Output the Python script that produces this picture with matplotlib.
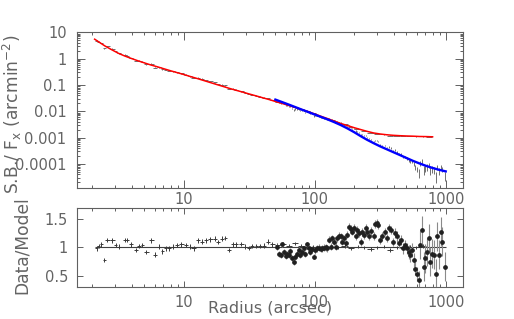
import numpy as np
import matplotlib
matplotlib.use("Agg")
import matplotlib.pyplot as plt
from matplotlib.ticker import FixedLocator, FixedFormatter, LogLocator, NullFormatter, NullLocator

# ---------------- data ----------------
# red model (inner fit)
r_red = [2.09, 2.24, 2.51, 2.82, 3.16, 3.55, 3.98, 4.47, 5.01, 5.62, 6.31, 7.08, 7.94, 8.91,
         10.0, 11.2, 12.6, 14.1, 15.8, 17.8, 20.0, 22.4, 25.1, 28.2, 31.6, 35.5, 39.8, 44.7,
         50.1, 56.2, 63.1, 70.8, 79.4, 89.1, 100, 112, 126, 141, 158, 178, 200, 224, 251,
         282, 316, 355, 398, 447, 501, 562, 631, 708, 794]
sb_red = [5.50, 4.37, 3.02, 2.19, 1.62, 1.26, 1.02, 0.832, 0.692, 0.575, 0.490, 0.412, 0.347,
          0.295, 0.251, 0.211, 0.178, 0.150, 0.126, 0.105, 0.0881, 0.0741, 0.0631, 0.0537,
          0.0457, 0.0389, 0.0331, 0.0282, 0.0237, 0.0200, 0.0168, 0.0141, 0.0117, 0.00977,
          0.00794, 0.00646, 0.00525, 0.00427, 0.00347, 0.00288, 0.00240, 0.00204, 0.00174,
          0.00151, 0.00138, 0.00129, 0.00123, 0.00119, 0.00116, 0.00114, 0.00111, 0.00110,
          0.00108]

# blue model (outer fit)
r_blue = [50.1, 56.2, 63.1, 70.8, 79.4, 89.1, 100, 112, 126, 141, 158, 178, 200, 224, 251,
          282, 316, 355, 398, 447, 501, 562, 631, 708, 794, 891, 1000]
sb_blue = [0.0279, 0.0226, 0.0182, 0.0146, 0.0117, 0.00944, 0.00759, 0.00610, 0.00490,
           0.00389, 0.00302, 0.00224, 0.00162, 0.00115, 0.000832, 0.000617, 0.000468,
           0.000363, 0.000282, 0.000219, 0.000170, 0.000132, 0.000105, 8.51e-5, 7.08e-5,
           6.03e-5, 5.25e-5]

# data set 1 (inner): radius, data/model, error
r1 = [2.16, 2.24, 2.35, 2.47, 2.62, 2.86, 3.03, 3.21, 3.55, 3.72,
      3.99, 4.30, 4.56, 4.84, 5.19, 5.67, 6.01, 6.48, 6.87, 7.29,
      7.72, 8.28, 8.95, 9.60, 10.4, 11.1, 11.9, 12.9, 13.8, 14.9,
      16.0, 17.3, 18.3, 19.6, 20.8, 22.2, 23.8, 25.2, 27.6, 29.6,
      31.5, 33.4, 35.9, 38.2, 40.8, 43.8, 47.5, 51.7, 57.0, 63.3,
      70.4, 78.2, 86.9, 96.5, 107.3, 120.3, 134.9, 151.1, 169.4, 189.9,
      212.9, 238.8, 267.6, 300.0, 336.3, 377.0, 422.7, 473.8, 531.3, 595.6,
      667.5, 748.2]
q1 = [0.98, 1.02, 1.05, 0.78, 1.13, 1.12, 1.04, 1.01, 1.13, 1.13,
      1.05, 0.95, 1.02, 1.04, 0.92, 1.12, 0.87, 1.01, 0.93, 0.98,
      0.98, 1.01, 1.04, 1.05, 1.04, 1.01, 0.98, 1.12, 1.10, 1.12,
      1.14, 1.15, 1.09, 1.15, 1.16, 0.95, 1.05, 1.05, 1.06, 1.01,
      0.99, 1.02, 1.02, 1.02, 1.03, 1.10, 1.05, 1.04, 1.06, 1.03,
      1.07, 1.02, 1.00, 1.01, 0.99, 1.00, 1.01, 1.00, 1.02, 0.98,
      1.01, 1.00, 0.97, 1.00, 1.01, 0.95, 1.00, 0.98, 1.01, 1.00,
      1.02, 1.00]
e1 = [0.04] * 47 + [0.03] * 25

# data set 2 (outer): radius, data/model, error
r2 = [51.5, 53.4, 55.0, 56.7, 58.0, 60.1, 61.9, 63.6, 65.3, 67.1,
      69.1, 71.2, 73.3, 75.5, 77.8, 80.0, 82.4, 84.9, 87.3, 90.0,
      92.7, 95.4, 98.3, 101.2, 104.1, 107.8, 111.1, 114.5, 117.8, 121.3,
      125.0, 128.6, 132.5, 136.5, 140.4, 144.7, 149.1, 153.3, 157.9, 162.7,
      167.3, 172.4, 177.7, 182.7, 188.3, 194.0, 199.5, 205.6, 211.8, 217.9,
      224.5, 231.3, 237.8, 245.1, 252.5, 259.7, 270.9, 282.1, 289.6, 299.0,
      304.2, 317.3, 328.7, 342.2, 356.3, 369.1, 380.3, 396.0, 408.0, 424.9,
      440.1, 459.0, 472.1, 492.5, 506.5, 524.6, 537.7, 553.0, 569.9, 587.2,
      603.9, 622.2, 641.2, 659.4, 679.5, 699.8, 720.0, 741.8, 764.3, 791.7,
      814.2, 839.0, 864.4, 889.1, 915.9, 943.7, 982.6]
q2 = [1.01, 0.89, 0.87, 1.05, 0.92, 0.85, 0.89, 0.87, 0.94, 0.81,
      0.75, 0.84, 0.89, 0.95, 0.87, 0.92, 0.98, 0.88, 1.05, 0.98,
      0.92, 0.97, 0.84, 0.95, 0.98, 0.99, 0.97, 0.98, 0.99, 1.00,
      0.98, 1.13, 1.01, 1.16, 1.10, 1.01, 1.16, 1.20, 1.19, 1.10,
      1.16, 1.07, 1.22, 1.36, 1.32, 1.27, 1.33, 1.19, 1.30, 1.25,
      1.10, 1.27, 1.22, 1.33, 1.27, 1.19, 1.28, 1.19, 1.40, 1.42,
      1.39, 1.13, 1.19, 1.27, 1.16, 1.33, 1.30, 1.10, 1.25, 1.19,
      1.07, 1.13, 0.98, 1.04, 0.98, 0.92, 0.87, 0.95, 0.78, 0.63,
      0.54, 0.43, 1.04, 1.30, 0.66, 0.81, 0.92, 1.16, 0.75, 0.89,
      0.87, 0.54, 1.19, 0.87, 1.27, 1.10, 0.66]
e2 = ([0.05] * 23 + [0.06] * 23 + [0.07] * 22 + [0.09] * 7 + [0.12] * 6
      + [0.15] + [0.25] * 15)

xticks_v = [10, 100, 1000]
xticks_l = ["10", "100", "1000"]
yticks1_v = [10, 1, 0.1, 0.01, 0.001, 0.0001]
yticks1_l = ["10", "1", "0.1", "0.01", "0.001", "0.0001"]
yticks2_v = [0.5, 1, 1.5]
yticks2_l = ["0.5", "1", "1.5"]

# ---------------- style ----------------
TXT = "#646464"
AXC = "#606060"
plt.rcParams["font.family"] = ["DejaVu Sans"]
plt.rcParams["mathtext.fontset"] = "dejavusans"
FS = 10.5
FSY = 12.3
FSX = 11.6

fig = plt.figure(figsize=(5.14, 3.19), dpi=100)
ax1 = fig.add_axes([0.1498, 0.4107, 0.751, 0.489])
ax2 = fig.add_axes([0.1498, 0.1003, 0.751, 0.2476])


def model_at(r, rm, ym):
    return 10 ** np.interp(np.log10(r), np.log10(rm), np.log10(ym))


def half_bins(r):
    lr = np.log10(r)
    d = np.gradient(lr) / 2
    return np.vstack([r - 10 ** (lr - d), 10 ** (lr + d) - r])


r1a, q1a, e1a = np.array(r1), np.array(q1), np.array(e1)
r2a, q2a, e2a = np.array(r2), np.array(q2), np.array(e2)
m1 = model_at(r1a, r_red, sb_red)
m2 = model_at(r2a, r_blue, sb_blue)
xe1 = half_bins(r1a)

# top panel
ax1.errorbar(r1a, q1a * m1, yerr=e1a * m1, xerr=xe1, fmt="none",
             ecolor="#707070", elinewidth=0.7, capsize=0, zorder=2)
lo2 = np.minimum(e2a, q2a - 0.2) * m2
ax1.errorbar(r2a, q2a * m2, yerr=[lo2, e2a * m2], fmt="none",
             ecolor="#707070", elinewidth=0.7, capsize=0, zorder=2)
ax1.plot(r_red, sb_red, color="#ff0000", lw=1.1, zorder=4)
ax1.plot(r_blue, sb_blue, color="#0000ff", lw=1.7, zorder=5)

ax1.set_xscale("log")
ax1.set_yscale("log")
ax1.set_xlim(1.533, 1355)
ax1.set_ylim(1.23e-5, 10.3)

# bottom panel
ax2.hlines(1.0, r_red[0], r_blue[-1], color="#404040", lw=0.8, zorder=2)
ax2.errorbar(r1a, q1a, yerr=e1a, xerr=xe1, fmt="none",
             ecolor="#3a3a3a", elinewidth=0.7, capsize=0, zorder=3)
ax2.errorbar(r2a, q2a, yerr=e2a, fmt="o", ms=2.4, mfc="#202020", mec="#202020",
             ecolor="#8a8a8a", elinewidth=0.8, capsize=0, zorder=4)
ax2.set_xscale("log")
ax2.set_xlim(1.533, 1355)
ax2.set_ylim(0.309, 1.684)

for ax in (ax1, ax2):
    for s in ax.spines.values():
        s.set_color(AXC)
        s.set_linewidth(0.8)
    ax.xaxis.set_major_locator(FixedLocator(xticks_v))
    ax.xaxis.set_major_formatter(FixedFormatter(xticks_l))
    ax.xaxis.set_minor_locator(LogLocator(base=10, subs=np.arange(2, 10), numticks=20))
    ax.xaxis.set_minor_formatter(NullFormatter())
    ax.tick_params(which="both", direction="in", top=True, right=True,
                   color=AXC, width=0.7, labelcolor=TXT, labelsize=FS)

ax1.yaxis.set_major_locator(FixedLocator(yticks1_v))
ax1.yaxis.set_major_formatter(FixedFormatter(yticks1_l))
ax1.yaxis.set_minor_locator(LogLocator(base=10, subs=np.arange(2, 10), numticks=20))
ax1.yaxis.set_minor_formatter(NullFormatter())
ax1.tick_params(which="major", length=5.5)
ax1.tick_params(which="minor", length=2.5)
ax1.tick_params(axis="x", which="major", pad=3)
ax1.tick_params(axis="y", which="major", pad=7.5)

ax2.yaxis.set_major_locator(FixedLocator(yticks2_v))
ax2.yaxis.set_major_formatter(FixedFormatter(yticks2_l))
ax2.yaxis.set_minor_locator(NullLocator())
ax2.tick_params(which="major", length=4.5)
ax2.tick_params(which="minor", length=2.3)
ax2.tick_params(axis="x", which="major", pad=6)
ax2.tick_params(axis="y", which="major", pad=6.5)

ax1.set_ylabel(r"S.B./ F$_{\rm x}$ (arcmin$^{-2}$)", color=TXT, fontsize=FSY,
               va="center")
ax1.yaxis.set_label_coords(-0.166, 0.47)
ax2.set_ylabel("Data/Model", color=TXT, fontsize=FSY, va="center")
ax2.yaxis.set_label_coords(-0.142, 0.53)
ax2.set_xlabel("Radius (arcsec)", color=TXT, fontsize=FSX, va="center")
ax2.xaxis.set_label_coords(0.5, -0.27)

fig.savefig("out.png", dpi=100)
